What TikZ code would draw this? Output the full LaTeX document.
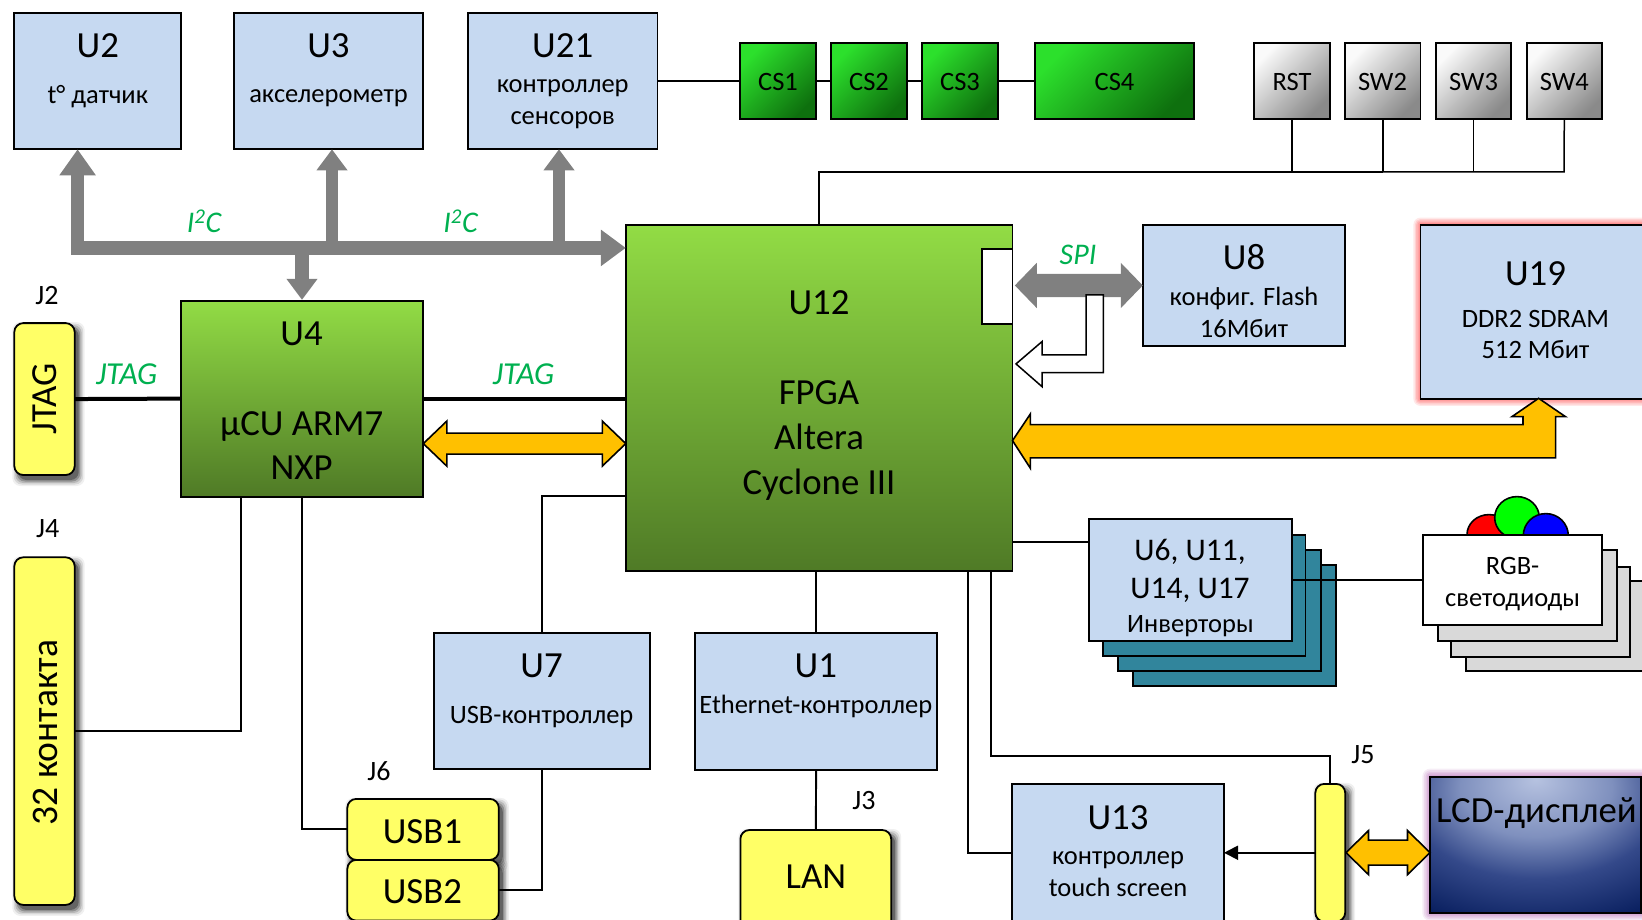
\documentclass[tikz,border=0pt]{standalone}
\usepackage{fontspec}
\setmainfont{Carlito}
\usetikzlibrary{arrows.meta,calc,shapes.geometric}
\definecolor{blk}{HTML}{C6D9F1}
\definecolor{yel}{HTML}{FFFF66}
\definecolor{teal2}{HTML}{31859C}
\definecolor{lyr}{HTML}{D9D9D9}
\definecolor{org}{HTML}{FFC000}
\definecolor{grn}{HTML}{00B050}
\definecolor{bus}{HTML}{808080}
\definecolor{gtop}{HTML}{92DC45}
\definecolor{gbot}{HTML}{4F7A26}
\definecolor{csA}{HTML}{2CE02C}
\definecolor{csB}{HTML}{0E700E}
\definecolor{swA}{HTML}{FAFAFA}
\definecolor{swB}{HTML}{8A8A8A}
\definecolor{lcdA}{HTML}{B6C2E0}
\definecolor{lcdB}{HTML}{7F90BE}
\definecolor{lcdC}{HTML}{34498A}
\definecolor{lcdD}{HTML}{0A2060}
\pgfdeclareradialshading{lcdglow}{\pgfpoint{0bp}{24bp}}{color(0bp)=(lcdA); color(18bp)=(lcdB); color(31bp)=(lcdC); color(47bp)=(lcdD); color(140bp)=(lcdD)}
\tikzset{
  fs/.style={font=\fontsize{#1}{#1}\selectfont,text height={0.644*#1pt},text depth=0pt,inner sep=0pt},
  block/.style={draw=black,line width=1.8pt,fill=blk},
  conn/.style={draw=black,line width=1.8pt,fill=yel,rounded corners=9pt},
  chip/.style={draw=black,line width=1.8pt,top color=gtop,bottom color=gbot},
  csbox/.style={draw=black,line width=1.8pt,top color=csA,bottom color=csB,shading angle=45},
  swbox/.style={draw=black,line width=1.8pt,top color=swA,bottom color=swB,shading angle=45},
  teallayer/.style={draw=black,line width=1.8pt,fill=teal2},
  greylayer/.style={draw=black,line width=1.8pt,fill=lyr},
  whitebox/.style={draw=black,line width=1.8pt,fill=white},
  wire/.style={draw=black,line width=1.9pt},
  jtagwire/.style={draw=black,line width=4pt},
  greyarrow/.style={draw=bus,line width=#1},
  orangearrow/.style={draw=black,line width=1.6pt,fill=org,line join=miter},
  lbl/.style={fs=26.5},
  big/.style={fs=36.8},
  jlbl/.style={fs=28},
  buslbl/.style={fs=#1,text=grn,font=\fontsize{#1}{#1}\selectfont\itshape},
}
\newcommand{\bx}[7]{\pgfmathsetmacro\bw{#4-#2}\pgfmathsetmacro\bh{#5-#3}\node[#6,anchor=north west,minimum width=\bw pt,minimum height=\bh pt,inner sep=0pt,outer sep=0pt] (#1) at (#2,#3) {#7};}
\newcommand{\softglow}[6]{\foreach \e/\o in {#6/.16,0.8*#6/.2,0.6*#6/.25,0.4*#6/.3,0.2*#6/.35}{\pgfmathsetmacro\ee{\e}\fill[#5,opacity=\o,rounded corners=\ee pt] (#1-\ee,#2-\ee) rectangle (#3+\ee,#4+\ee);}}
\newcommand{\softshadow}[4]{\foreach \e/\o in {0/.30,1.5/.22,3/.15,4.5/.10,6/.06}{\fill[black,opacity=\o,rounded corners=8pt] (#1+4-\e,#2+5-\e) rectangle (#3+4+\e,#4+5+\e);}}
\newcommand{\dblarrow}[5]{\filldraw[orangearrow] (#1) -- ($(#1)+(#5,#4)$) -- ($(#1)+(#5,#3)$) -- ($(#2)+(-#5,#3)$) -- ($(#2)+(-#5,#4)$) -- (#2) -- ($(#2)+(-#5,-#4)$) -- ($(#2)+(-#5,-#3)$) -- ($(#1)+(#5,-#3)$) -- ($(#1)+(#5,-#4)$) -- cycle;}
\begin{document}
\begin{tikzpicture}[x=1pt,y=-1pt]
\useasboundingbox (0,-0.6) rectangle (1642,918.4);
\clip (0,-0.6) rectangle (1642,918.4);
% shadows and glows
\softshadow{14.3}{322.5}{74.7}{474.4}
\softshadow{14.3}{556.7}{74.7}{904.3}
\softshadow{347.3}{798.3}{498.8}{859.3}
\softshadow{347.3}{859.3}{498.8}{930}
\softshadow{740.4}{829.4}{891.2}{930}
\softshadow{1315.3}{783.3}{1345.2}{930}
\softglow{1420.4}{224}{1660}{398.3}{red!55}{7}
\softglow{1430.3}{776}{1660}{912.3}{violet!45}{8}
% top row
\bx{u2}{14.3}{12.3}{181.3}{148.7}{block}{}
\bx{u3}{233.7}{12.3}{423.2}{148.7}{block}{}
\bx{u21}{468}{12.3}{657.4}{148.7}{block}{}
\node[big] (tu2) at (97.8,45.5) {U2};
\node[lbl] (tu2b) at (97.8,94.5) {t° датчик};
\node[big] (tu3) at (328.5,45.5) {U3};
\node[lbl] (tu3b) at (328.5,93.5) {акселерометр};
\node[big] (tu21) at (562.7,45.5) {U21};
\node[lbl] (tu21b) at (562.7,83.5) {контроллер};
\node[lbl] (tu21c) at (562.7,115.5) {сенсоров};
\bx{cs1}{740}{42.7}{816}{118.3}{csbox}{}
\bx{cs2}{831}{42.7}{907}{118.3}{csbox}{}
\bx{cs3}{922}{42.7}{997.8}{118.3}{csbox}{}
\bx{cs4}{1034.6}{42.7}{1194}{118.3}{csbox}{}
\node[lbl] (tcs1) at (778,81.5) {CS1};
\node[lbl] (tcs2) at (869,81.5) {CS2};
\node[lbl] (tcs3) at (960,81.5) {CS3};
\node[lbl] (tcs4) at (1114.5,81.5) {CS4};
\bx{rst}{1254}{42.7}{1329.7}{118.3}{swbox}{}
\bx{sw2}{1345}{42.7}{1420.5}{118.3}{swbox}{}
\bx{sw3}{1436}{42.7}{1511}{118.3}{swbox}{}
\bx{sw4}{1526.6}{42.7}{1602}{118.3}{swbox}{}
\node[lbl] (trst) at (1292,81.5) {RST};
\node[lbl] (tsw2) at (1382.5,81.5) {SW2};
\node[lbl] (tsw3) at (1473.5,81.5) {SW3};
\node[lbl] (tsw4) at (1564.3,81.5) {SW4};
% chips
\bx{u4}{180.8}{300}{423.3}{496}{chip}{}
\bx{u12}{625.8}{224.3}{1012.5}{570.7}{chip}{}
\bx{spibox}{982}{248.7}{1012.5}{323.7}{whitebox}{}
\node[big] (tu4) at (301.6,333) {U4};
\node[big] (tu4b) at (301.6,423) {µCU ARM7};
\node[big] (tu4c) at (301.6,467.5) {NXP};
\node[big] (tu12) at (819,301.6) {U12};
\node[big] (tu12b) at (819,391.6) {FPGA};
\node[big] (tu12c) at (819,436.7) {Altera};
\node[big] (tu12d) at (819,481.7) {Cyclone III};
% U8, U19
\bx{u8}{1142.8}{224}{1345.2}{345.7}{block}{}
\node[big] (tu8) at (1244,257) {U8};
\node[lbl] (tu8b) at (1244,296) {конфиг. Flash};
\node[lbl] (tu8c) at (1244,328) {16Мбит};
\bx{u19}{1420.4}{224}{1660}{398.3}{block}{}
\node[big] (tu19) at (1535.5,273) {U19};
\node[lbl] (tu19b) at (1535.5,318) {DDR2 SDRAM};
\node[lbl] (tu19c) at (1535.5,349.5) {512 Мбит};
% connectors on the left
\bx{j2box}{14.3}{322.5}{74.7}{474.4}{conn}{}
\node[big,rotate=90] (tj2box) at (45,398.4) {JTAG};
\node[jlbl] (tj2) at (47,295) {J2};
\bx{j4box}{14.3}{556.7}{74.7}{904.3}{conn}{}
\node[fs=37.5,rotate=90] (tj4box) at (45,732) {32 контакта};
\node[jlbl] (tj4) at (47.8,528) {J4};
\bx{usb1}{347.3}{798.3}{498.8}{859.3}{conn}{}
\bx{usb2}{347.3}{859.3}{498.8}{920}{conn}{}
\node[big] (tusb1) at (422.4,831) {USB1};
\node[big] (tusb2) at (422.4,891) {USB2};
\node[jlbl] (tj6) at (379,771) {J6};
% lower blocks
\bx{u7}{433.9}{632.3}{649.7}{768.7}{block}{}
\node[big] (tu7) at (541.6,665.5) {U7};
\node[lbl] (tu7b) at (541.6,714.3) {USB-контроллер};
\bx{u1}{695}{632.3}{937.3}{769.7}{block}{}
\node[big] (tu1) at (815.8,665.5) {U1};
\node[lbl] (tu1b) at (815.8,704.2) {Ethernet-контроллер};
\bx{lan}{740.4}{829.4}{891.2}{935}{conn}{}
\node[big] (tlan) at (815.8,876.5) {LAN};
\node[jlbl] (tj3) at (864,800) {J3};
% inverter stack
\bx{u6d}{1133}{564}{1335.7}{685.3}{teallayer}{}
\bx{u6c}{1118.3}{549}{1321}{670.3}{teallayer}{}
\bx{u6b}{1103.2}{534}{1305.4}{655}{teallayer}{}
\bx{u6}{1089.3}{518.7}{1292}{640}{block}{}
\node[fs=31.5] (tu6) at (1190,550) {U6, U11,};
\node[fs=31.5] (tu6b) at (1190,587.8) {U14, U17};
\node[lbl] (tu6c) at (1190.4,623.3) {Инверторы};
% RGB stack
\bx{rgbd}{1466}{580}{1660}{670}{greylayer}{}
\bx{rgbc}{1451}{566}{1630}{656.7}{greylayer}{}
\bx{rgbb}{1438}{549.3}{1617}{640}{greylayer}{}
\node[ellipse,draw=black,line width=1.6pt,fill=red,minimum width=44pt,minimum height=40pt,inner sep=0pt] (ledr) at (1489,534) {};
\node[ellipse,draw=black,line width=1.6pt,fill=green,minimum width=44.6pt,minimum height=42pt,inner sep=0pt] (ledg) at (1517,517) {};
\node[ellipse,draw=black,line width=1.6pt,fill=blue,minimum width=45pt,minimum height=44pt,inner sep=0pt] (ledb) at (1545.8,535) {};
\bx{rgb}{1423}{534}{1602.3}{624.7}{whitebox}{}
\node[lbl] (trgb) at (1512.6,565) {RGB-};
\node[lbl] (trgbb) at (1512.6,597.7) {светодиоды};
% bottom right
\bx{u13}{1012.3}{783.3}{1224}{921}{block}{}
\node[big] (tu13) at (1118,816.7) {U13};
\node[lbl] (tu13b) at (1118,855.5) {контроллер};
\node[lbl] (tu13c) at (1118,887.5) {touch screen};
\bx{j5box}{1315.3}{783.3}{1345.2}{921}{conn}{}
\node[jlbl] (tj5) at (1363,754) {J5};
\bx{lcd}{1430.3}{776}{1641.5}{912.3}{draw=black,line width=2.2pt,shade,shading=lcdglow}{}
\node[big] (tlcd) at (1536.4,810) {LCD-дисплей};
% plain connectors
\draw[wire] (u21.east) -- (cs1.west);
\draw[wire] (cs1.east) -- (cs2.west);
\draw[wire] (cs2.east) -- (cs3.west);
\draw[wire] (cs3.east) -- (cs4.west);
\coordinate (swbus) at (1564,171.3);
\draw[draw=black,line width=2.4pt] (u12.north) |- (swbus -| sw2.south);
\draw[wire,line width=1.5pt] (rst.south) -- (rst.south |- swbus);
\draw[wire,line width=1.5pt] (sw2.south) -- (sw2.south |- swbus);
\draw[wire,line width=1.5pt] (sw3.south) -- (sw3.south |- swbus);
\draw[wire,line width=1.5pt] (swbus -| sw2.south) -- (swbus) -- (sw4.south);
\draw[jtagwire] (j2box.east) -- (u4.west);
\draw[jtagwire] (u4.east) -- (u4.east -| u12.west);
\coordinate (u4p) at (241.2,496);
\draw[wire] (j4box.east) -| (u4p);
\draw[wire] (u4.south) |- (usb1.west);
\coordinate (u12p) at (625.8,495.7);
\draw[wire] (u7.north) |- (u12p);
\draw[wire] (u7.south) |- (usb2.east);
\draw[wire] (u1.north) -- (u1.north |- u12.south);
\draw[wire] (u1.south) -- (lan.north);
\coordinate (u12r) at (1012.5,541.3);
\draw[wire] (u12r) -- (u12r -| u6.west);
\draw[wire] (u6.east) -- (rgb.west);
\coordinate (u12tp) at (967.6,570.7);
\draw[wire] (u12tp) |- (u13.west);
\coordinate (u12j) at (990.6,570.7);
\coordinate (j5k) at (1330.25,755);
\draw[wire] (u12j) |- (j5k) -- (j5box.north);
\draw[wire,-{Triangle[length=14pt,width=14pt]}] (j5box.west) -- (u13.east);
% grey buses
\coordinate (busend) at (625.8,247.3);
\coordinate (u2tip) at (77.6,148.7);
\coordinate (u3tip) at (332,148.7);
\coordinate (u21tip) at (559,148.7);
\coordinate (u4tip) at (302,299.3);
\draw[greyarrow=13.6pt,{Triangle[length=26pt,width=34.7pt]}-{Triangle[length=25pt,width=35pt]},line join=miter] (u2tip) |- (busend);
\draw[greyarrow=12pt,-{Triangle[length=21pt,width=29.6pt]}] (332,254.1) -- (u3tip);
\draw[greyarrow=12pt,-{Triangle[length=21pt,width=29.6pt]}] (559,254.1) -- (u21tip);
\draw[greyarrow=14pt,-{Triangle[length=21pt,width=29.6pt]}] (302,254.1) -- (u4tip);
\coordinate (spiL) at (1014.8,284.85);
\draw[greyarrow=23.3pt,{Triangle[length=22pt,width=44pt]}-{Triangle[length=22pt,width=44pt]}] (spiL) -- (u8.west);
\node[buslbl=30,inner sep=0pt] (ti2c) at (204,222.2) {I\textsuperscript{2}C};
\node[buslbl=30,inner sep=0pt] (ti2cb) at (460.5,222.2) {I\textsuperscript{2}C};
\node[buslbl=30,inner sep=0pt] (tspi) at (1078,254) {SPI};
\node[buslbl=32,inner sep=0pt] (tjtag) at (126.7,374) {JTAG};
\node[buslbl=32,inner sep=0pt] (tjtagb) at (523.6,374) {JTAG};
% outlined arrows
\filldraw[draw=black,line width=1.5pt,fill=white,line join=miter] (1086,294.3) -- (1103.4,294.3) -- (1103.4,372) -- (1042,372) -- (1042,386) -- (1016,363.3) -- (1042,341) -- (1042,354.3) -- (1086,354.3) -- cycle;
\coordinate (oU4) at (423.3,443);
\coordinate (oU12) at (625.8,443);
\dblarrow{oU4}{oU12}{10.5}{22.5}{23.5}
\coordinate (oJ5) at (1346,852);
\coordinate (oLCD) at (1430,852);
\dblarrow{oJ5}{oLCD}{12.5}{22}{22.5}
\coordinate (ddrA) at (1012.5,440);
\coordinate (ddrB) at (1538.6,397.7);
\filldraw[orangearrow] (ddrA) -- (1030.4,413.3) -- (1030.4,424) -- (1523,424) -- (1523,416) -- (1512,416) -- (ddrB) -- (1565.4,416) -- (1555.6,416) -- (1555.6,457.3) -- (1030.4,457.3) -- (1030.4,467.7) -- cycle;
\end{tikzpicture}
\end{document}
